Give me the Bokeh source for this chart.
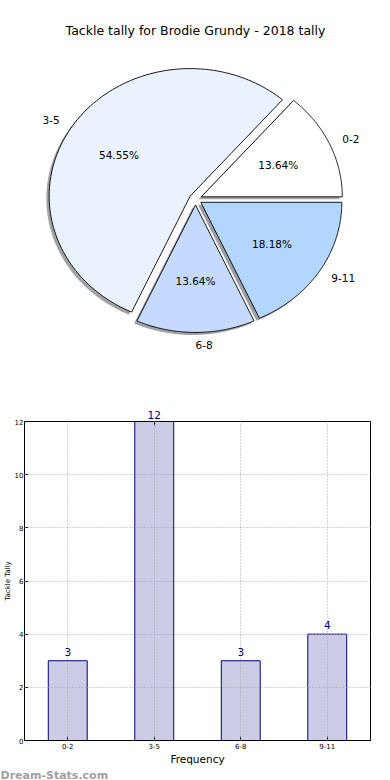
import numpy as np
from bokeh.plotting import figure
from bokeh.models import (Range1d, ColumnDataSource, Label, FixedTicker, LinearAxis)
from bokeh.layouts import column
from bokeh.embed import file_html
from bokeh.resources import INLINE
from bokeh.core.properties import value

# ---------------- data ----------------
title = "Tackle tally for Brodie Grundy - 2018 tally"
categories = ["0-2", "3-5", "6-8", "9-11"]
counts = [3, 12, 3, 4]
pie_colors = ["#FFFFFF", "#EBF2FF", "#C6D9FF", "#B3D6FF"]
y_ticks = [0, 2, 4, 6, 8, 10, 12]
y_max = 12
x_label = "Frequency"
y_label = "Tackle Tally"
watermark = "Dream-Stats.com"

FONT = "DejaVu Sans"

# ---------------- layout constants ----------------
LEFT, RIGHT = 19, 20           # minimum frame borders (shared by both figures in the column)
FRAME_LEFT = 24                # left border once the y axis is laid out
W = 390
PIE_H = 390
BAR_H = 390

# ---------------- pie ----------------
CX, CY, RX, RY = 195.0, 198.7, 141.0, 127.5
EXPLODE = 0.045
SH = 0.02

pie = figure(width=W, height=PIE_H, x_range=Range1d(FRAME_LEFT, W - RIGHT),
             y_range=Range1d(PIE_H, 0),
             x_axis_type=None, y_axis_type=None, toolbar_location=None,
             output_backend="svg", min_border_left=LEFT, min_border_right=RIGHT,
             min_border_top=0, min_border_bottom=0)
pie.outline_line_color = None
pie.grid.visible = False

total = float(sum(counts))
fracs = np.array(counts) / total
edges = np.concatenate([[0.0], np.cumsum(fracs)]) * 2 * np.pi


def wedge(a0, a1, ox, oy):
    t = np.linspace(a0, a1, 120)
    xs = np.concatenate([[CX + ox], CX + ox + RX * np.cos(t)])
    ys = np.concatenate([[CY - oy], CY - oy - RY * np.sin(t)])
    return list(xs), list(ys)


sh_xs, sh_ys, sh_cols = [], [], []
w_xs, w_ys = [], []
lab_x, lab_y, lab_t, lab_a = [], [], [], []
pct_x, pct_y, pct_t = [], [], []
for i, cat in enumerate(categories):
    a0, a1 = edges[i], edges[i + 1]
    mid = 0.5 * (a0 + a1)
    ox = EXPLODE * RX * np.cos(mid)
    oy = EXPLODE * RY * np.sin(mid)
    xs, ys = wedge(a0, a1, ox, oy)
    w_xs.append(xs)
    w_ys.append(ys)
    sx, sy = wedge(a0, a1, ox - SH * RX, oy - SH * RY)
    sh_xs.append(sx)
    sh_ys.append(sy)
    c = pie_colors[i].lstrip("#")
    r, g, b = (int(c[k:k + 2], 16) for k in (0, 2, 4))
    sh_cols.append("#%02x%02x%02x" % (int(r * 0.3), int(g * 0.3), int(b * 0.3)))
    lab_x.append(CX + ox + 1.1 * RX * np.cos(mid))
    lab_y.append(CY - oy - 1.1 * RY * np.sin(mid))
    lab_t.append(cat)
    lab_a.append("left" if np.cos(mid) > -1e-9 else "right")
    pct_x.append(CX + ox + 0.6 * RX * np.cos(mid))
    pct_y.append(CY - oy - 0.6 * RY * np.sin(mid))
    pct_t.append("%.2f%%" % (100.0 * fracs[i]))

pie.patches(xs=sh_xs, ys=sh_ys, fill_color=sh_cols, fill_alpha=0.5, line_color=None)
pie.patches(xs=w_xs, ys=w_ys, fill_color=pie_colors, line_color="black", line_width=0.9)

lab_src = ColumnDataSource(dict(x=lab_x, y=lab_y, t=lab_t, a=lab_a))
pie.text(x="x", y="y", text="t", text_align="a", text_baseline="middle", source=lab_src,
         text_font=value(FONT), text_font_size="10.5px", text_color="black")
pct_src = ColumnDataSource(dict(x=pct_x, y=pct_y, t=pct_t))
pie.text(x="x", y="y", text="t", text_align="center", text_baseline="middle", source=pct_src,
         text_font=value(FONT), text_font_size="10.5px", text_color="black")

pie.add_layout(Label(x=195, y=30, text=title, text_align="center", text_baseline="middle",
                     text_font=FONT, text_font_size="12.5px", text_color="black"))

# ---------------- bar ----------------
n = len(categories)
pos = [i + 0.5 for i in range(n)]          # slot centres of the categories
bar = figure(width=W, height=BAR_H, x_range=Range1d(0, n), y_range=Range1d(0, y_max),
             toolbar_location=None, output_backend="svg",
             min_border_left=LEFT, min_border_right=RIGHT, min_border_top=31, min_border_bottom=0)
bar.outline_line_color = "black"
bar.outline_line_width = 1

bsrc = ColumnDataSource(dict(x=pos, cnt=counts))
bar.vbar(x="x", top="cnt", width=0.45, source=bsrc, fill_color="#CCCCE6",
         line_color="#000080", line_width=1)

bar.xaxis.ticker = FixedTicker(ticks=pos)
bar.xaxis.major_label_overrides = {p: cat for p, cat in zip(pos, categories)}
bar.yaxis.ticker = FixedTicker(ticks=y_ticks)
bar.xgrid.ticker = FixedTicker(ticks=pos)
bar.ygrid.ticker = FixedTicker(ticks=y_ticks)

for g in (bar.xgrid, bar.ygrid):
    g.grid_line_color = "#A8A8A8"
    g.grid_line_dash = "1 2"
    g.grid_line_width = 1
    g.level = "annotation"

for ax in (bar.xaxis, bar.yaxis):
    ax.major_tick_in = 4
    ax.major_tick_out = 0
    ax.minor_tick_line_color = None
    ax.major_label_text_font = FONT
    ax.major_label_text_font_size = "7px"
    ax.major_label_text_color = "black"
    ax.axis_line_color = "black"
bar.xaxis.major_label_standoff = 2
bar.yaxis.major_label_standoff = 1
bar.xaxis.axis_label = x_label
bar.xaxis.axis_label_text_font = FONT
bar.xaxis.axis_label_text_font_size = "10.5px"
bar.xaxis.axis_label_text_font_style = "normal"
bar.xaxis.axis_label_text_color = "black"
bar.xaxis.axis_label_standoff = 1
bar.yaxis.axis_label = y_label
bar.yaxis.axis_label_text_font = FONT
bar.yaxis.axis_label_text_font_size = "7px"
bar.yaxis.axis_label_text_font_style = "normal"
bar.yaxis.axis_label_text_color = "black"
bar.yaxis.axis_label_standoff = 0

# value labels: those that would sit above the frame go on a top axis, the rest inside
above = [(p, c) for p, c in zip(pos, counts) if c >= y_max]
top_ax = LinearAxis(ticker=FixedTicker(ticks=[p for p, _ in above]),
                    major_label_overrides={p: str(c) for p, c in above},
                    major_tick_in=4, major_tick_out=0, minor_tick_line_color=None,
                    major_label_standoff=3, major_label_text_font=FONT,
                    major_label_text_font_size="10.5px", major_label_text_color="#000080",
                    axis_line_color="black")
bar.add_layout(top_ax, "above")

for p, c in zip(pos, counts):
    if c < y_max:
        bar.add_layout(Label(x=p, y=c, text=str(c), text_align="center",
                             text_baseline="alphabetic", y_offset=9, text_font=FONT,
                             text_font_size="10.5px", text_color="#000080"))

bar.title.text = watermark
bar.title_location = "below"
bar.title.align = "left"
bar.title.offset = -FRAME_LEFT
bar.title.standoff = -2
bar.title.text_font = FONT
bar.title.text_font_size = "11px"
bar.title.text_font_style = "bold"
bar.title.text_color = "#A0A0A0"

layout = column(pie, bar, spacing=0)
open("out.html", "w").write(file_html(layout, INLINE))
